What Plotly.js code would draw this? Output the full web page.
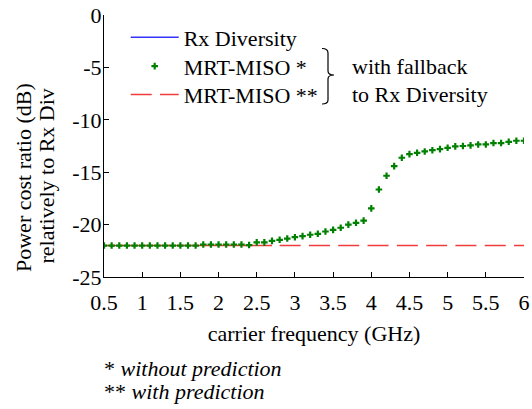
<!DOCTYPE html>
<html>
<head>
<meta charset="utf-8">
<script src="https://cdn.plot.ly/plotly-3.0.1.min.js"></script>
<style>
  html, body { margin: 0; padding: 0; background: #ffffff; }
  #chart { width: 532px; height: 409px; }
  /* Rx Diversity is shown only as a legend entry; keep it at full strength */
  #chart .legend .traces { opacity: 1 !important; }
</style>
</head>
<body>
<div id="chart"></div>
<script>
// ---------------- data ----------------
const freqGHz = [0.5, 0.6, 0.7, 0.8, 0.9, 1.0, 1.1, 1.2, 1.3, 1.4,
                 1.5, 1.6, 1.7, 1.8, 1.9, 2.0, 2.1, 2.2, 2.3, 2.4,
                 2.5, 2.6, 2.7, 2.8, 2.9, 3.0, 3.1, 3.2, 3.3, 3.4,
                 3.5, 3.6, 3.7, 3.8, 3.9, 4.0, 4.1, 4.2, 4.3, 4.4,
                 4.5, 4.6, 4.7, 4.8, 4.9, 5.0, 5.1, 5.2, 5.3, 5.4,
                 5.5, 5.6, 5.7, 5.8, 5.9, 6.0];

// Rx Diversity (reference, 0 dB relative to itself) - not visible inside the plot
const rxDiversity = [0, 0];
const rxDiversityFreq = [0.5, 6.0];

// MRT-MISO * (without prediction), dB relative to Rx Diversity
const mrtMisoNoPred = [-22.0, -22.0, -22.0, -22.0, -22.0, -22.0, -22.0, -22.0, -22.0, -22.0,
                       -22.0, -22.0, -22.0, -21.9, -21.9, -21.9, -21.9, -21.9, -21.9, -21.95,
                       -21.7, -21.7, -21.55, -21.45, -21.33, -21.2, -21.1, -20.97, -20.88, -20.66,
                       -20.5, -20.3, -20.0, -19.83, -19.62, -18.45, -16.65, -15.34, -14.42, -13.62,
                       -13.28, -13.15, -13.02, -12.9, -12.8, -12.67, -12.54, -12.5, -12.44, -12.35,
                       -12.35, -12.22, -12.22, -12.1, -12.0, -12.0];

// MRT-MISO ** (with prediction)
const mrtMisoPred = [-22, -22, -22, -22, -22, -22, -22, -22, -22, -22,
                     -22, -22, -22, -22, -22, -22, -22, -22, -22, -22,
                     -22, -22, -22, -22, -22, -22, -22, -22, -22, -22,
                     -22, -22, -22, -22, -22, -22, -22, -22, -22, -22,
                     -22, -22, -22, -22, -22, -22, -22, -22, -22, -22,
                     -22, -22, -22, -22, -22, -22];

const seriesNames = ['Rx Diversity', 'MRT-MISO *', 'MRT-MISO **'];
const xTickVals = [0.5, 1, 1.5, 2, 2.5, 3, 3.5, 4, 4.5, 5, 5.5, 6];
const xTickText = ['0.5', '1', '1.5', '2', '2.5', '3', '3.5', '4', '4.5', '5', '5.5', '6'];
const yTickVals = [-25, -20, -15, -10, -5, 0];
const yTickText = ['-25', '-20', '-15', '-10', '-5', '0'];

// -------------- layout helpers --------------
const M = {l: 104, r: 8, t: 15, b: 132};
const W = 532, H = 409;
const PW = W - M.l - M.r, PH = H - M.t - M.b;
const px = x => (x - M.l) / PW;
const py = y => (H - M.b - y) / PH;

const FONT = 'Liberation Serif';
const RED = '#f03c3c', GREEN = '#008000', BLUE = '#3333ff';

const solidEnd = 23; // red curve drawn solid up to 2.7 GHz, dashed after
const traces = [
  { // red, solid part (no legend)
    x: freqGHz.slice(0, solidEnd), y: mrtMisoPred.slice(0, solidEnd),
    mode: 'lines', line: {color: RED, width: 1.5}, showlegend: false, hoverinfo: 'skip'
  },
  { // red dashed part
    x: freqGHz.slice(solidEnd), y: mrtMisoPred.slice(solidEnd),
    name: seriesNames[2], legend: 'legend3',
    mode: 'lines', line: {color: RED, width: 1.5, dash: '21px,8.3px'}
  },
  {
    x: rxDiversityFreq, y: rxDiversity, name: seriesNames[0], legend: 'legend',
    visible: 'legendonly',
    mode: 'lines', line: {color: BLUE, width: 1.5}
  },
  {
    x: freqGHz, y: mrtMisoNoPred, name: seriesNames[1], legend: 'legend2',
    mode: 'markers', marker: {symbol: 'cross', size: 5.5, color: GREEN, line: {width: 0}}
  }
];

const ann = (text, x, y, opts) => Object.assign({
  text: text, xref: 'paper', yref: 'paper', x: px(x), y: py(y),
  showarrow: false, xanchor: 'left', yanchor: 'middle',
  font: {family: FONT, size: 22, color: '#000'}
}, opts || {});

const legendAt = topPx => ({
  x: px(125.7), y: py(topPx), xanchor: 'left', yanchor: 'top',
  bgcolor: 'rgba(0,0,0,0)', borderwidth: 0,
  font: {family: FONT, size: 22, color: '#000'},
  itemwidth: 48, tracegroupgap: 0
});

const bracket = `M${px(322)},${py(48.5)} Q${px(328)},${py(48.5)} ${px(328)},${py(53)} ` +
                `L${px(328)},${py(71)} Q${px(328)},${py(75)} ${px(334)},${py(75)} ` +
                `Q${px(328)},${py(75)} ${px(328)},${py(79)} L${px(328)},${py(100)} ` +
                `Q${px(328)},${py(104)} ${px(322)},${py(104)}`;

const layout = {
  width: W, height: H,
  margin: M,
  paper_bgcolor: '#fff', plot_bgcolor: '#fff',
  font: {family: FONT, size: 22, color: '#000'},
  showlegend: true,
  legend: legendAt(16.5),
  legend2: legendAt(45.3),
  legend3: legendAt(73.8),
  xaxis: {
    range: [0.5, 6], tickvals: xTickVals, ticktext: xTickText,
    ticks: 'inside', ticklen: 5, tickwidth: 1, tickcolor: '#000',
    showline: true, linecolor: '#000', linewidth: 1,
    showgrid: false, zeroline: false, mirror: false,
    tickfont: {family: FONT, size: 22, color: '#000'},
    ticklabelstandoff: 6,
    title: {text: 'carrier frequency (GHz)', font: {family: FONT, size: 22, color: '#000'}, standoff: 11}
  },
  yaxis: {
    range: [-25, 0], tickvals: yTickVals, ticktext: yTickText,
    ticks: 'inside', ticklen: 5, tickwidth: 1, tickcolor: '#000',
    showline: true, linecolor: '#000', linewidth: 1,
    showgrid: false, zeroline: false, mirror: false,
    tickfont: {family: FONT, size: 22, color: '#000'},
    ticklabelstandoff: -3
  },
  shapes: [
    {type: 'path', xref: 'paper', yref: 'paper', path: bracket, line: {color: '#000', width: 1.2}}
  ],
  annotations: [
    ann('Power cost ratio (dB)', 23, 178, {textangle: -90, xanchor: 'center'}),
    ann('relatively to Rx Div', 45.5, 176, {textangle: -90, xanchor: 'center'}),
    ann('with fallback', 349.5, 66),
    ann('to Rx Diversity', 349.5, 94),
    ann('* <i>without prediction</i>', 102, 368),
    ann('** <i>with prediction</i>', 102, 391)
  ]
};

Plotly.newPlot('chart', traces, layout, {staticPlot: true, displayModeBar: false});
</script>
</body>
</html>
